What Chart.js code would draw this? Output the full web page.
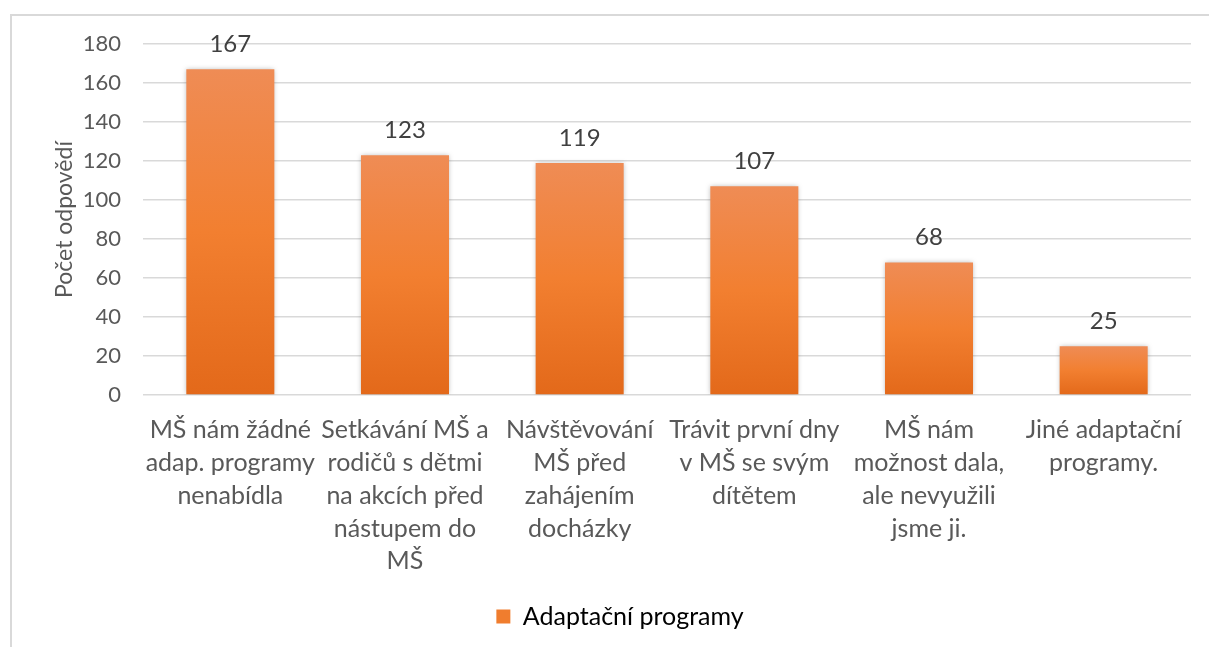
<!DOCTYPE html>
<html>
<head>
<meta charset="utf-8">
<script src="https://cdn.jsdelivr.net/npm/chart.js@4.4.1/dist/chart.umd.min.js"></script>
<style>
  html, body { margin: 0; padding: 0; background: #ffffff; overflow: hidden; }
  #wrap { position: relative; width: 1209px; height: 647px; }
  #frame { position: absolute; left: 10px; top: 14px; width: 1300px; height: 700px;
           border-top: 2px solid #d9d9d9; border-left: 2px solid #d9d9d9; box-sizing: border-box; }
  canvas { position: absolute; left: 0; top: 0; }
</style>
</head>
<body>
<div id="wrap">
  <div id="frame"></div>
  <canvas id="c" width="1209" height="647"></canvas>
</div>
<script>
const categories = [
  ["MŠ nám žádné", "adap. programy", "nenabídla"],
  ["Setkávání MŠ a", "rodičů s dětmi", "na akcích před", "nástupem do", "MŠ"],
  ["Návštěvování", "MŠ před", "zahájením", "docházky"],
  ["Trávit první dny", "v MŠ se svým", "dítětem"],
  ["MŠ nám", "možnost dala,", "ale nevyužili", "jsme ji."],
  ["Jiné adaptační", "programy."]
];
const seriesName = "Adaptační programy";
const values = [167, 123, 119, 107, 68, 25];
const yTicks = [0, 20, 40, 60, 80, 100, 120, 140, 160, 180];
const yTitle = "Počet odpovědí";

const FONT = "Lato, 'Open Sans', sans-serif";

function barGradient(ctx) {
  const chart = ctx.chart;
  const y = chart.scales && chart.scales.y;
  if (!y || ctx.type !== 'data') return '#F07D2E';
  const top = y.getPixelForValue(ctx.parsed ? ctx.parsed.y : values[ctx.dataIndex]);
  const bottom = y.getPixelForValue(0);
  if (!isFinite(top) || !isFinite(bottom) || top === bottom) return '#F07D2E';
  const g = chart.ctx.createLinearGradient(0, top, 0, bottom);
  g.addColorStop(0, '#EF8C55');
  g.addColorStop(0.5, '#F27F30');
  g.addColorStop(1, '#E3691A');
  return g;
}

const shadowPlugin = {
  id: 'barShadow',
  beforeDatasetsDraw(chart) {
    const c = chart.ctx;
    c.save();
    c.shadowColor = 'rgba(0,0,0,0.28)';
    c.shadowBlur = 5;
    c.shadowOffsetX = 0;
    c.shadowOffsetY = 0;
  },
  afterDatasetsDraw(chart) {
    chart.ctx.restore();
  }
};

const labelPlugin = {
  id: 'valueLabels',
  afterDatasetsDraw(chart) {
    const c = chart.ctx;
    c.save();
    c.font = "24px " + FONT;
    c.fillStyle = '#404040';
    c.textAlign = 'center';
    c.textBaseline = 'middle';
    chart.getDatasetMeta(0).data.forEach((bar, i) => {
      c.fillText(String(values[i]), bar.x, bar.y - 25);
    });
    c.restore();
  }
};

new Chart(document.getElementById('c'), {
  type: 'bar',
  data: {
    labels: categories,
    datasets: [{
      label: seriesName,
      data: values,
      backgroundColor: barGradient,
      borderWidth: 0,
      barPercentage: 1,
      categoryPercentage: 0.504
    }]
  },
  options: {
    responsive: false,
    animation: false,
    devicePixelRatio: 1,
    layout: { padding: { left: 49, right: 18, top: 44, bottom: 8 } },
    plugins: {
      legend: {
        position: 'bottom',
        labels: {
          boxWidth: 14, boxHeight: 14,
          color: '#595959',
          font: { family: FONT, size: 25 },
          padding: 8,
          generateLabels(chart) {
            return [{ text: seriesName, fillStyle: '#F07D2E', strokeStyle: '#F07D2E', lineWidth: 0, datasetIndex: 0 }];
          }
        }
      },
      tooltip: { enabled: false }
    },
    scales: {
      x: {
        grid: { display: false, drawTicks: false },
        border: { display: false },
        ticks: {
          color: '#595959',
          font: { family: FONT, size: 25, lineHeight: 1.31 },
          padding: 19,
          maxRotation: 0, minRotation: 0, autoSkip: false
        },
        afterFit(s) { s.height = 201; }
      },
      y: {
        min: 0, max: 180,
        afterBuildTicks(s) { s.ticks = yTicks.map(v => ({ value: v })); },
        grid: { color: '#d9d9d9', lineWidth: 1.5, drawTicks: false },
        border: { display: false },
        ticks: {
          color: '#595959',
          font: { family: FONT, size: 22 },
          padding: 22
        },
        title: {
          display: true, text: yTitle, color: '#595959',
          font: { family: FONT, size: 23 },
          padding: { top: 2, bottom: 0 }
        },
        afterFit(s) { s.width = 94; }
      }
    }
  },
  plugins: [shadowPlugin, labelPlugin]
});
</script>
</body>
</html>
